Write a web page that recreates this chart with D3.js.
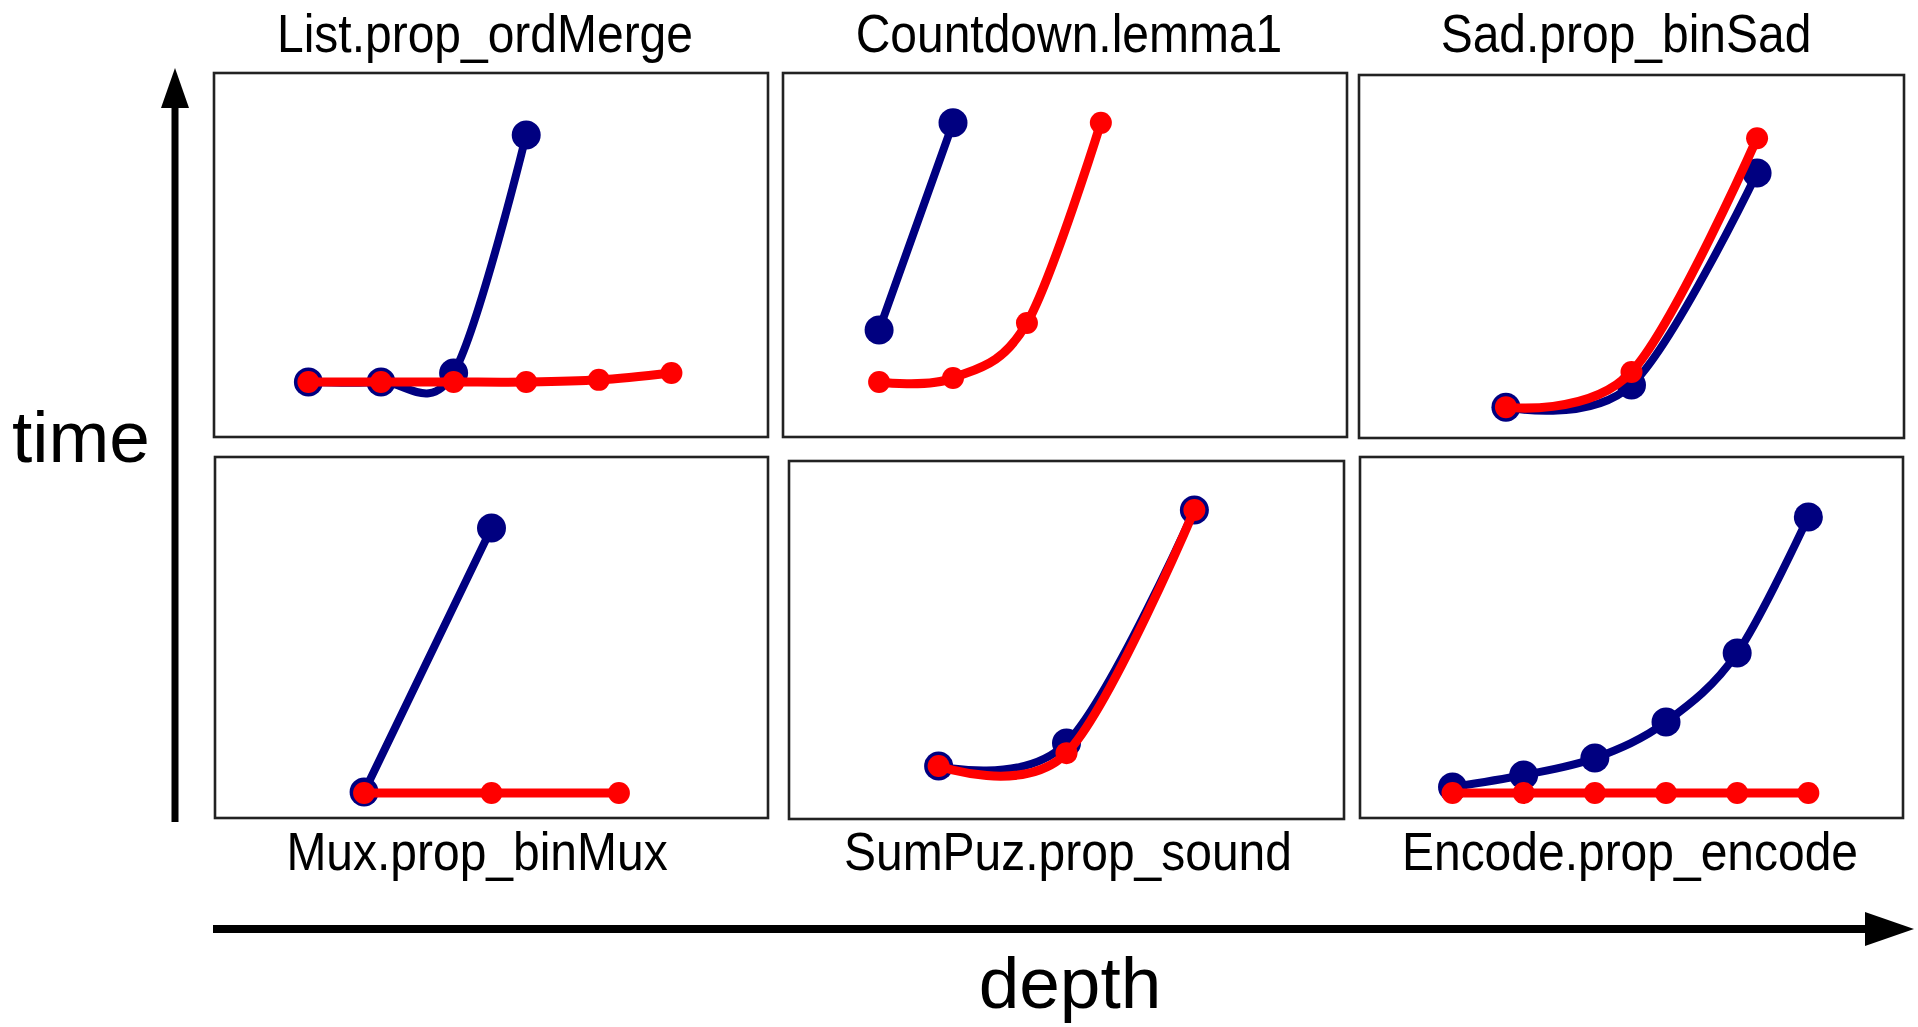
<!DOCTYPE html>
<html>
<head>
<meta charset="utf-8">
<script src="https://cdn.jsdelivr.net/npm/d3@7"></script>
<style>
  html, body { margin: 0; padding: 0; background: #fff; }
  svg { display: block; }
</style>
</head>
<body>
<svg id="chart" width="1918" height="1027"></svg>
<script>
// ---------------- data ----------------
const panelNames = [
  "List.prop_ordMerge", "Countdown.lemma1", "Sad.prop_binSad",
  "Mux.prop_binMux", "SumPuz.prop_sound", "Encode.prop_encode"
];
// series A (navy) : depth reached and relative time
const depthsA = [[1,2,3,4],[1,2],[1,2,3],[1,2],[1,2,3],[1,2,3,4,5,6]];
const timesA  = [
  [15.1, 15.1, 17.6, 83.0],
  [29.4, 86.3],
  [8.5, 14.6, 73.0],
  [7.2, 80.3],
  [14.8, 21.2, 86.3],
  [8.6, 11.9, 16.6, 26.6, 45.7, 83.4]
];
// series B (red)
const depthsB = [[1,2,3,4,5,6],[1,2,3,4],[1,2,3],[1,2,3],[1,2,3],[1,2,3,4,5,6]];
const timesB  = [
  [15.1, 15.1, 15.1, 15.1, 15.7, 17.6],
  [15.1, 16.2, 31.3, 86.3],
  [8.5, 18.2, 82.6],
  [6.9, 6.9, 6.9],
  [14.8, 18.4, 86.3],
  [6.9, 6.9, 6.9, 6.9, 6.9, 6.9]
];
const depthDomains = [[-0.3,7.33],[-0.3,7.33],[-0.17,4.17],[-0.17,4.17],[-0.17,4.17],[-0.3,7.33]];
const timeDomain = [0, 100];
const axisLabels = { x: "depth", y: "time" };

// ---------------- layout ----------------
const frames = [
  { x: 214,  y: 73,  w: 554, h: 364, tx: 485,  ty: 52 },
  { x: 783,  y: 73,  w: 564, h: 364, tx: 1069, ty: 52 },
  { x: 1359, y: 75,  w: 545, h: 363, tx: 1626, ty: 52 },
  { x: 215,  y: 457, w: 553, h: 361, tx: 477,  ty: 870 },
  { x: 789,  y: 461, w: 555, h: 358, tx: 1068, ty: 870 },
  { x: 1360, y: 457, w: 543, h: 361, tx: 1630, ty: 870 }
];
const colA = "#000080", colB = "#ff0000";
const font = "'Liberation Sans', Arial, sans-serif";

const svg = d3.select("#chart");

frames.forEach((f, i) => {
  const g = svg.append("g").attr("transform", `translate(${f.x},${f.y})`);
  const x = d3.scaleLinear().domain(depthDomains[i]).range([0, f.w]);
  const y = d3.scaleLinear().domain(timeDomain).range([f.h, 0]);

  g.append("rect").attr("x", 0).attr("y", 0).attr("width", f.w).attr("height", f.h)
    .attr("fill", "#fff").attr("stroke", "#222").attr("stroke-width", 2.6);

  const line = d3.line().x(d => x(d[0])).y(d => y(d[1])).curve(d3.curveCardinal.tension(0));

  const ptsA = depthsA[i].map((d, k) => [d, timesA[i][k]]);
  const ptsB = depthsB[i].map((d, k) => [d, timesB[i][k]]);

  g.append("path").datum(ptsA).attr("d", line)
    .attr("fill", "none").attr("stroke", colA).attr("stroke-width", 8)
    .attr("stroke-linejoin", "round").attr("stroke-linecap", "round");
  g.selectAll(".mA").data(ptsA).join("circle").attr("class", "mA")
    .attr("cx", d => x(d[0])).attr("cy", d => y(d[1])).attr("r", 14.5).attr("fill", colA);

  g.append("path").datum(ptsB).attr("d", line)
    .attr("fill", "none").attr("stroke", colB).attr("stroke-width", 9)
    .attr("stroke-linejoin", "round").attr("stroke-linecap", "round");
  g.selectAll(".mB").data(ptsB).join("circle").attr("class", "mB")
    .attr("cx", d => x(d[0])).attr("cy", d => y(d[1])).attr("r", 11).attr("fill", colB);

  const t = svg.append("text").attr("x", f.tx).attr("y", f.ty)
    .attr("text-anchor", "middle").attr("font-family", font).attr("font-size", 53)
    .attr("fill", "#000").text(panelNames[i]);
  const natural = t.node().getComputedTextLength();
  t.attr("textLength", natural * 0.905).attr("lengthAdjust", "spacingAndGlyphs");
});

// arrows
svg.append("line").attr("x1", 175).attr("y1", 822).attr("x2", 175).attr("y2", 100)
  .attr("stroke", "#000").attr("stroke-width", 7);
svg.append("path").attr("d", "M175,68 L189,108 L161,108 Z").attr("fill", "#000");

svg.append("line").attr("x1", 213).attr("y1", 929).attr("x2", 1872).attr("y2", 929)
  .attr("stroke", "#000").attr("stroke-width", 8);
svg.append("path").attr("d", "M1914,929 L1865,912 L1865,946 Z").attr("fill", "#000");

svg.append("text").attr("x", 12).attr("y", 462).attr("font-family", font)
  .attr("font-size", 73).attr("fill", "#000").text(axisLabels.y);
svg.append("text").attr("x", 1070).attr("y", 1008).attr("text-anchor", "middle")
  .attr("font-family", font).attr("font-size", 73).attr("fill", "#000").text(axisLabels.x);
</script>
</body>
</html>
